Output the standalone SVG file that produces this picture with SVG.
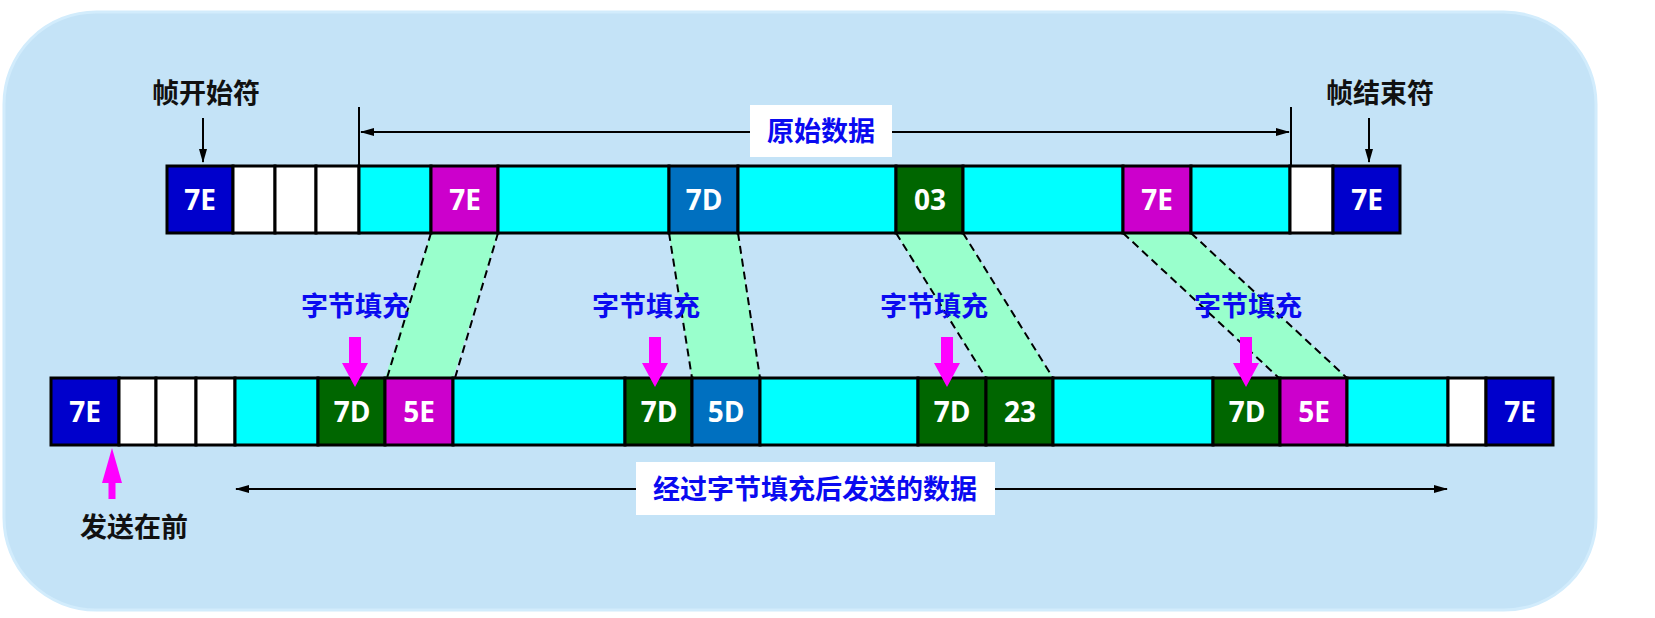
<svg xmlns="http://www.w3.org/2000/svg" width="1655" height="618" viewBox="0 0 1655 618">
<style>
.cell{stroke:#000;stroke-width:3}
.b{fill:#0000CC}.w{fill:#FFFFFF}.c{fill:#00FFFF}.m{fill:#CC00CC}.g{fill:#006600}.l{fill:#0070C0}
.t{font-family:"Open Sans","Noto Sans",sans-serif;font-weight:700;font-size:28px;fill:#fff;text-anchor:middle}
.cjk{font-family:"Noto Sans CJK SC",sans-serif;font-weight:700;font-size:27px;text-anchor:middle}
.blk{fill:#111}.blu{fill:#0A0AF0}
.trap{fill:#99FFCC}
.dash{stroke:#000;stroke-width:2;stroke-dasharray:8 5;fill:none}
.ln{stroke:#000;stroke-width:2;fill:none}
.pink{fill:#FF00FF}
</style>
<defs>
<marker id="ah" viewBox="0 0 14 8" refX="13" refY="4" markerWidth="14" markerHeight="8" markerUnits="userSpaceOnUse" orient="auto-start-reverse">
<path d="M0,0 L14,4 L0,8 Z" fill="#000"/>
</marker>
</defs>
<rect id="background" x="4" y="12" width="1592" height="598" rx="92" ry="92" fill="#C4E3F7" stroke="#D2ECFC" stroke-width="3"/>

<g id="mapping">
<polygon class="trap" points="431,233 498,233 453,378 385,378"/>
<polygon class="trap" points="669,233 738,233 760,378 692,378"/>
<polygon class="trap" points="896,233 963,233 1053,378 986,378"/>
<polygon class="trap" points="1123,233 1191,233 1347,378 1279,378"/>
</g>

<g id="connectors">
<line class="dash" x1="431" y1="233" x2="387" y2="378"/>
<line class="dash" x1="498" y1="233" x2="455" y2="378"/>
<line class="dash" x1="669" y1="233" x2="692" y2="378"/>
<line class="dash" x1="738" y1="233" x2="760" y2="378"/>
<line class="dash" x1="896" y1="233" x2="986" y2="378"/>
<line class="dash" x1="963" y1="233" x2="1053" y2="378"/>
<line class="dash" x1="1123" y1="233" x2="1279" y2="378"/>
<line class="dash" x1="1191" y1="233" x2="1347" y2="378"/>
<line class="ln" x1="359" y1="107" x2="359" y2="166"/>
<line class="ln" x1="1291" y1="107" x2="1291" y2="166"/>
<line class="ln" x1="361" y1="132" x2="1289" y2="132" marker-start="url(#ah)" marker-end="url(#ah)"/>
<line class="ln" x1="236" y1="489" x2="1447" y2="489" marker-start="url(#ah)" marker-end="url(#ah)"/>
<line class="ln" x1="203" y1="118" x2="203" y2="162" marker-end="url(#ah)"/>
<line class="ln" x1="1369" y1="118" x2="1369" y2="162" marker-end="url(#ah)"/>
</g>

<g id="top-row">
<rect class="cell b" x="167" y="166" width="66" height="67"/>
<rect class="cell w" x="233" y="166" width="42" height="67"/>
<rect class="cell w" x="275" y="166" width="41" height="67"/>
<rect class="cell w" x="316" y="166" width="43" height="67"/>
<rect class="cell c" x="359" y="166" width="72" height="67"/>
<rect class="cell m" x="431" y="166" width="67" height="67"/>
<rect class="cell c" x="498" y="166" width="171" height="67"/>
<rect class="cell l" x="669" y="166" width="69" height="67"/>
<rect class="cell c" x="738" y="166" width="158" height="67"/>
<rect class="cell g" x="896" y="166" width="67" height="67"/>
<rect class="cell c" x="963" y="166" width="160" height="67"/>
<rect class="cell m" x="1123" y="166" width="68" height="67"/>
<rect class="cell c" x="1191" y="166" width="99" height="67"/>
<rect class="cell w" x="1290" y="166" width="43" height="67"/>
<rect class="cell b" x="1333" y="166" width="67" height="67"/>
<text class="t" x="200" y="210">7E</text>
<text class="t" x="465" y="210">7E</text>
<text class="t" x="704" y="210">7D</text>
<text class="t" x="930" y="210">03</text>
<text class="t" x="1157" y="210">7E</text>
<text class="t" x="1367" y="210">7E</text>
</g>

<g id="bottom-row">
<rect class="cell b" x="51" y="378" width="68" height="67"/>
<rect class="cell w" x="119" y="378" width="37" height="67"/>
<rect class="cell w" x="156" y="378" width="40" height="67"/>
<rect class="cell w" x="196" y="378" width="39" height="67"/>
<rect class="cell c" x="235" y="378" width="83" height="67"/>
<rect class="cell g" x="318" y="378" width="67" height="67"/>
<rect class="cell m" x="385" y="378" width="68" height="67"/>
<rect class="cell c" x="453" y="378" width="172" height="67"/>
<rect class="cell g" x="625" y="378" width="67" height="67"/>
<rect class="cell l" x="692" y="378" width="68" height="67"/>
<rect class="cell c" x="760" y="378" width="158" height="67"/>
<rect class="cell g" x="918" y="378" width="68" height="67"/>
<rect class="cell g" x="986" y="378" width="67" height="67"/>
<rect class="cell c" x="1053" y="378" width="160" height="67"/>
<rect class="cell g" x="1213" y="378" width="67" height="67"/>
<rect class="cell m" x="1280" y="378" width="67" height="67"/>
<rect class="cell c" x="1347" y="378" width="101" height="67"/>
<rect class="cell w" x="1448" y="378" width="38" height="67"/>
<rect class="cell b" x="1486" y="378" width="67" height="67"/>
<text class="t" x="85" y="422">7E</text>
<text class="t" x="352" y="422">7D</text>
<text class="t" x="419" y="422">5E</text>
<text class="t" x="659" y="422">7D</text>
<text class="t" x="726" y="422">5D</text>
<text class="t" x="952" y="422">7D</text>
<text class="t" x="1020" y="422">23</text>
<text class="t" x="1247" y="422">7D</text>
<text class="t" x="1314" y="422">5E</text>
<text class="t" x="1520" y="422">7E</text>
</g>

<g id="stuff-arrows">
<polygon class="pink" points="349,337 361,337 361,363 368,363 355,387 342,363 349,363"/>
<polygon class="pink" points="649,337 661,337 661,363 668,363 655,387 642,363 649,363"/>
<polygon class="pink" points="941,337 953,337 953,363 960,363 947,387 934,363 941,363"/>
<polygon class="pink" points="1240,337 1252,337 1252,363 1259,363 1246,387 1233,363 1240,363"/>
<polygon class="pink" points="112,448 122,483 115.5,483 115.5,499 108.5,499 108.5,483 102,483"/>
</g>

<g id="labels">
<text class="cjk blk" x="206" y="103">帧开始符</text>
<text class="cjk blk" x="1380" y="103">帧结束符</text>
<text class="cjk blk" x="134" y="537">发送在前</text>
<text class="cjk blu" x="355" y="316">字节填充</text>
<text class="cjk blu" x="646" y="316">字节填充</text>
<text class="cjk blu" x="934" y="316">字节填充</text>
<text class="cjk blu" x="1248" y="316">字节填充</text>
</g>

<g id="raw-data-label">
<rect x="750" y="105" width="142" height="52" fill="#fff"/>
<text class="cjk blu" x="821" y="141">原始数据</text>
</g>

<g id="sent-data-label">
<rect x="636" y="462" width="359" height="53" fill="#fff"/>
<text class="cjk blu" x="815" y="499">经过字节填充后发送的数据</text>
</g>
</svg>
